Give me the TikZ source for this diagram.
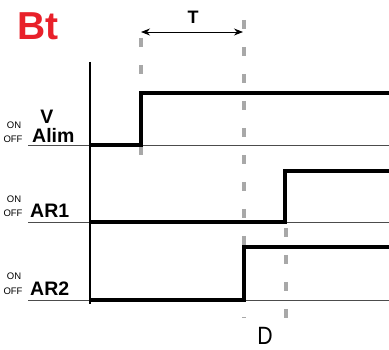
\documentclass[tikz,border=0pt]{standalone}
\usepackage{fontspec}
\setmainfont{Liberation Sans}
\usetikzlibrary{arrows.meta}
\definecolor{btred}{HTML}{E8202A}
\definecolor{markgray}{HTML}{A8A8A8}
\begin{document}
\begin{tikzpicture}[x=1pt,y=-1pt,
		baseline/.style={draw=black!70,line width=0.8pt},
		signal/.style={line width=3.8pt,line join=miter},
		marker/.style={draw=markgray,line width=4.5pt,dash pattern=on 9pt off 18pt},
		onoff/.style={font=\fontsize{9.5}{10}\selectfont,anchor=base,inner sep=0pt},
		sig/.style={font=\bfseries\fontsize{19.5}{21}\selectfont,anchor=base west,inner sep=0pt}]
			\useasboundingbox (0,0) rectangle (389,350);

			% Title and labels
			\node[font=\bfseries\fontsize{39}{40}\selectfont,text=btred,anchor=base west,inner sep=0pt] (title) at (17,40) {Bt};
			\node[onoff] (on1) at (14,129) {ON};
			\node[onoff] (off1) at (13,143) {OFF};
			\node[sig,anchor=base] (v) at (47,124) {V};
			\node[sig] (alim) at (32,143) {Alim};
			\node[onoff] (on2) at (14,203) {ON};
			\node[onoff] (off2) at (13,217) {OFF};
			\node[sig] (ar1) at (30,218) {AR1};
			\node[onoff] (on3) at (14,280) {ON};
			\node[onoff] (off3) at (13,295) {OFF};
			\node[sig] (ar2) at (30,296) {AR2};
			\node[font=\fontsize{25}{26}\selectfont,xscale=0.85,anchor=base,inner sep=0pt] (d) at (265,345) {D};

			% Time marks
			\coordinate (m1top) at (141,38);
			\coordinate (m1bot) at (141,156);
			\coordinate (m2top) at (244,20);
			\coordinate (m2bot) at (244,318);
			\coordinate (m3top) at (286,228);
			\coordinate (m3bot) at (286,318);
			\draw[marker] (m1top) -- (m1bot);
			\draw[marker] (m2top) -- (m2bot);
			\draw[marker] (m3top) -- (m3bot);

			% Delay T
			\coordinate (tl) at (141,32);
			\coordinate (tr) at (243,32);
			\draw[line width=0.9pt,{Stealth[length=9pt,width=7pt]}-{Stealth[length=9pt,width=7pt]}] (tl) -- (tr);
			\node[font=\bfseries\fontsize{18}{19}\selectfont,anchor=base,inner sep=0pt] (t) at (193,24) {T};

			% Zero lines
			\draw[baseline] (28,145) -- (389,145);
			\draw[baseline] (28,222) -- (389,222);
			\draw[baseline] (28,300) -- (389,300);

			% Time axis
			\draw[line width=2.4pt] (90,62) -- (90,304);

			% Signals
			\draw[signal] (90,145) -- (141,145) -- (141,93) -- (392,93);
			\draw[signal] (90,222) -- (285,222) -- (285,171) -- (392,171);
			\draw[signal] (90,300) -- (244,300) -- (244,247) -- (392,247);
		\end{tikzpicture}
\end{document}
